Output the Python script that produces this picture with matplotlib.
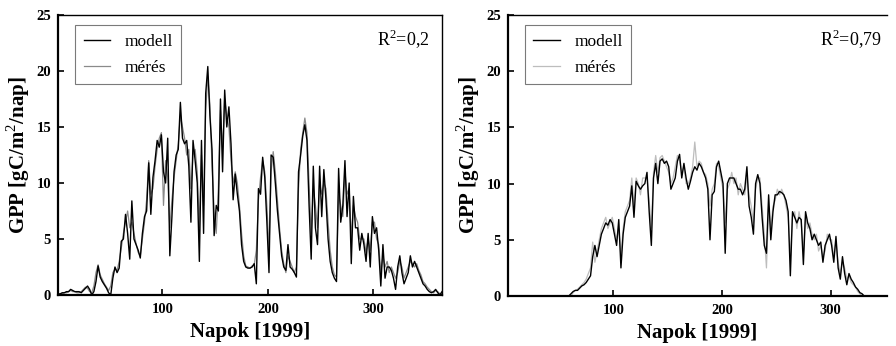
import numpy as np
import matplotlib
matplotlib.use("Agg")
import matplotlib.pyplot as plt

# Day of year (every second day of 1999)
days = np.arange(1, 366, 2)

# Left panel: modelled and measured GPP [gC/m2/day]
left_model = [
    0.1, 0.1, 0.2, 0.2, 0.3,   0.3, 0.5, 0.4, 0.3, 0.3,
    0.3, 0.2, 0.4, 0.6, 0.8,   0.5, 0.0, 0.3, 1.2, 2.6,
    1.6, 1.2, 0.9, 0.6, 0.2,   0.0, 1.5, 2.5, 2.0, 2.4,
    4.8, 5.0, 7.2, 5.5, 3.2,   8.4, 5.0, 4.5, 4.0, 3.3,
    5.5, 7.0, 7.5, 11.8, 7.2,  10.5, 12.0, 13.8, 13.2, 14.3,
    11.0, 10.0, 14.0, 3.5, 7.0,  11.0, 12.5, 13.0, 17.2, 14.0,
    13.5, 13.8, 11.5, 6.5, 13.8,  12.0, 10.0, 3.0, 13.8, 5.5,
    18.0, 20.4, 16.0, 13.0, 5.3,  8.0, 7.5, 17.5, 11.0, 18.3,
    15.0, 16.8, 13.5, 8.5, 10.8,  9.0, 7.5, 4.5, 3.0, 2.5,
    2.4, 2.4, 2.5, 2.8, 1.0,   9.5, 9.0, 12.3, 10.5, 6.5,
    2.0, 12.5, 12.3, 10.0, 7.5,  5.5, 3.5, 2.5, 2.2, 4.5,
    2.5, 2.3, 2.0, 1.6, 11.0,  12.5, 14.2, 15.2, 13.8, 8.0,
    3.2, 11.5, 6.0, 4.5, 11.5,  7.0, 11.2, 8.5, 5.0, 3.0,
    2.0, 1.5, 1.2, 11.3, 6.5,  8.0, 12.0, 7.0, 10.0, 2.8,
    8.8, 6.0, 6.0, 4.0, 5.5,   4.5, 3.0, 5.5, 2.5, 7.0,
    5.5, 6.0, 4.0, 0.8, 4.5,   1.5, 2.5, 2.5, 2.2, 1.5,
    0.5, 2.5, 3.5, 2.0, 1.0,   1.5, 2.0, 3.5, 2.5, 3.0,
    2.5, 2.0, 1.5, 1.0, 0.8,   0.5, 0.3, 0.2, 0.3, 0.5,
    0.2, 0.0, 0.3,
]
left_meas = [
    0.0, 0.1, 0.1, 0.2, 0.2,   0.3, 0.4, 0.3, 0.3, 0.2,
    0.2, 0.3, 0.5, 0.7, 0.6,   0.3, 0.2, 0.8, 2.0, 2.7,
    1.8, 1.4, 1.0, 0.7, 0.4,   0.8, 2.0, 2.3, 2.2, 3.0,
    4.2, 5.5, 6.5, 7.5, 6.0,   6.5, 5.5, 4.6, 3.8, 3.5,
    5.0, 6.5, 8.5, 12.0, 9.0,  9.5, 11.5, 13.0, 14.0, 14.5,
    8.0, 12.0, 10.5, 6.0, 8.5,  10.5, 12.0, 13.5, 16.0, 15.0,
    14.0, 12.5, 13.0, 9.5, 12.5,  13.0, 11.0, 6.0, 12.5, 8.0,
    16.5, 19.5, 17.0, 11.5, 7.5,  5.5, 9.5, 16.5, 13.0, 17.5,
    16.0, 15.0, 12.0, 10.0, 11.0,  10.0, 8.0, 5.5, 3.5, 2.6,
    2.5, 2.4, 2.6, 2.7, 4.0,   8.5, 10.5, 12.0, 11.0, 8.0,
    4.0, 11.0, 12.8, 11.0, 8.5,  6.0, 4.0, 2.8, 2.0, 3.5,
    3.0, 2.5, 2.0, 2.5, 9.5,   13.0, 14.5, 15.8, 14.5, 10.0,
    5.5, 9.5, 8.0, 6.0, 10.0,  9.0, 10.0, 9.5, 6.5, 4.0,
    2.5, 1.8, 1.6, 9.0, 8.0,   7.0, 11.0, 9.0, 9.5, 5.0,
    8.0, 7.0, 6.5, 5.0, 5.0,   5.0, 3.8, 5.0, 4.0, 6.5,
    6.5, 5.0, 4.5, 2.0, 3.5,   2.5, 3.0, 2.0, 2.5, 2.0,
    1.5, 2.0, 3.0, 2.5, 1.5,   2.0, 2.5, 3.0, 2.8, 2.5,
    2.8, 2.2, 1.8, 1.2, 1.0,   0.7, 0.5, 0.3, 0.2, 0.4,
    0.3, 0.1, 0.2,
]

# Right panel: modelled and measured GPP [gC/m2/day]
right_model = [0.0] * 30 + [
    0.2, 0.4, 0.5, 0.5, 0.7,   0.9, 1.0, 1.2, 1.5, 1.8,
    3.5, 4.5, 3.5, 4.5, 5.5,   6.0, 6.5, 6.3, 6.8, 6.5,
    5.5, 4.5, 6.8, 2.5, 5.5,   7.0, 7.5, 8.0, 9.8, 7.0,
    10.2, 9.8, 9.5, 9.8, 10.0,  11.0, 7.5, 4.5, 10.5, 11.8,
    10.0, 12.0, 12.2, 11.8, 12.0,  11.5, 9.5, 10.0, 10.5, 12.0,
    12.6, 10.5, 11.8, 10.5, 9.5,  10.2, 11.0, 11.5, 11.2, 11.8,
    11.5, 11.0, 10.5, 9.5, 5.0,  9.0, 9.3, 11.5, 12.0, 11.0,
    10.0, 3.8, 10.0, 10.5, 10.5,  10.5, 10.0, 9.5, 9.5, 9.0,
    9.5, 11.5, 8.0, 7.0, 5.5,  10.0, 10.8, 10.0, 7.0, 4.5,
    3.8, 9.0, 5.0, 7.5, 9.0,   9.0, 9.3, 9.2, 9.0, 8.5,
    7.5, 1.8, 7.5, 7.0, 6.5,   7.0, 6.8, 2.8, 7.5, 6.5,
    6.0, 5.0, 5.5, 5.0, 4.5,   4.8, 3.0, 4.5, 5.0, 5.5,
    4.5, 3.0, 5.3, 2.5, 1.5,   3.5, 2.0, 1.0, 2.0, 1.5,
    1.2, 0.8, 0.6, 0.3, 0.2,
] + [0.0] * 18
right_meas = [0.0] * 30 + [
    0.0, 0.3, 0.5, 0.6, 0.8,   1.0, 1.2, 1.5, 2.0, 2.5,
    4.8, 3.0, 4.0, 5.0, 6.0,   6.5, 7.0, 6.0, 6.5, 7.0,
    6.0, 5.0, 6.0, 3.5, 6.0,   7.5, 8.0, 8.5, 10.5, 8.0,
    10.5, 10.0, 9.0, 10.5, 10.5,  10.5, 8.5, 6.0, 11.0, 12.5,
    11.0, 12.3, 12.5, 12.0, 11.5,  11.0, 10.0, 10.5, 11.5, 12.5,
    12.0, 11.0, 11.5, 10.0, 10.0,  10.5, 11.5, 13.7, 11.5, 12.0,
    11.8, 11.0, 10.8, 10.0, 8.0,  9.5, 10.0, 11.8, 11.5, 10.5,
    9.5, 6.5, 9.5, 10.0, 11.0,  10.0, 10.5, 9.0, 10.0, 9.5,
    9.0, 10.5, 9.0, 8.0, 6.5,  9.5, 10.5, 10.5, 8.0, 5.5,
    2.5, 8.0, 6.0, 8.0, 8.5,   9.5, 9.0, 9.5, 9.0, 8.0,
    7.0, 3.5, 7.0, 7.5, 6.0,   7.5, 6.5, 4.0, 7.0, 6.0,
    6.5, 5.5, 5.0, 5.5, 4.0,   4.5, 3.5, 4.0, 5.5, 5.0,
    5.0, 3.5, 4.8, 3.0, 2.0,   3.0, 2.5, 1.5, 1.8, 1.2,
    1.0, 0.8, 0.4, 0.2, 0.0,
] + [0.0] * 18

r2_labels = ["R$^2$=0,2", "R$^2$=0,79"]
x_ticks = [100, 200, 300]
y_ticks = [0, 5, 10, 15, 20, 25]

SERIF = "Liberation Serif"
plt.rcParams["font.family"] = SERIF
plt.rcParams["mathtext.fontset"] = "custom"
plt.rcParams["mathtext.rm"] = SERIF

fig = plt.figure(figsize=(8.96, 3.46), dpi=100)
ax_l = fig.add_axes([58 / 896, 51 / 346, 384 / 896, 280 / 346])
ax_r = fig.add_axes([508 / 896, 50 / 346, 379 / 896, 281 / 346])

panels = [
    (ax_l, left_model, left_meas, "#8a8a8a", (1, 365), r2_labels[0], 0.969),
    (ax_r, right_model, right_meas, "#bdbdbd", (3, 352), r2_labels[1], 0.987),
]

for ax, model, meas, meas_color, xlim, r2, r2x in panels:
    ax.plot(days, meas, color=meas_color, lw=0.9, label="mérés", zorder=2)
    ax.plot(days, model, color="black", lw=1.0, label="modell", zorder=3)
    ax.set_xlim(*xlim)
    ax.set_ylim(0, 25)
    ax.set_xticks(x_ticks)
    ax.set_yticks(y_ticks)
    ax.tick_params(direction="in", length=4, width=1.2, labelsize=10.5, pad=5)
    ax.tick_params(axis="x", pad=6)
    for lab in ax.get_xticklabels() + ax.get_yticklabels():
        lab.set_fontweight("bold")
    for side in ("left", "bottom"):
        ax.spines[side].set_linewidth(1.6)
    for side in ("top", "right"):
        ax.spines[side].set_linewidth(1.0)
    ax.set_xlabel("Napok [1999]", fontsize=15, fontweight="bold", labelpad=4)
    ax.set_ylabel("GPP [gC/m$^2$/nap]", fontsize=15, fontweight="bold", labelpad=3)
    ax.text(r2x, 0.915, r2, transform=ax.transAxes, ha="right", va="center",
            fontsize=13)
    handles, labels = ax.get_legend_handles_labels()
    leg = ax.legend(handles[::-1], labels[::-1], loc="upper left",
                    bbox_to_anchor=(0.044, 0.964), borderaxespad=0,
                    fontsize=12.5, frameon=True, fancybox=False,
                    edgecolor="#7a7a7a", framealpha=1,
                    handlelength=1.55, handletextpad=0.8, borderpad=0.5,
                    labelspacing=0.55)
    leg.get_frame().set_linewidth(0.8)

ax_r.spines["right"].set_visible(False)

fig.savefig("out.png", dpi=100)
